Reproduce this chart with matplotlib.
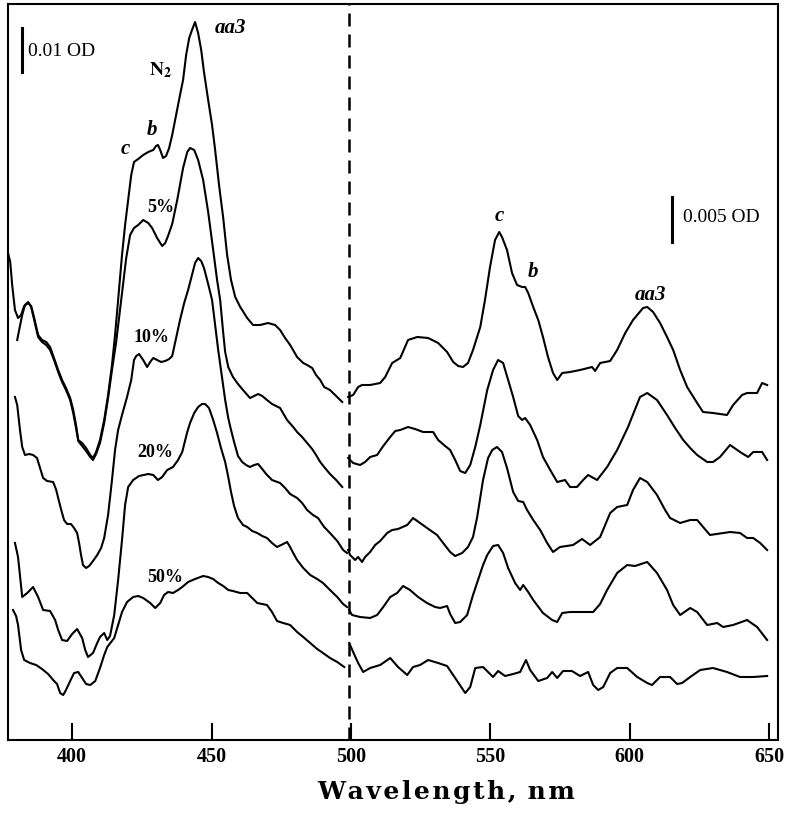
import matplotlib
matplotlib.use('Agg')
import matplotlib.pyplot as plt

plt.rcParams['font.family'] = ['Liberation Serif', 'DejaVu Serif']
plt.rcParams['mathtext.fontset'] = 'stix'

# Digitized difference spectra (trace height, arbitrary units; left and right
# halves have different OD scales, see scale bars)

# --- Soret region (left of 500 nm) ---
n2_left_nm = [377.0, 377.8, 378.5, 379.5, 380.6, 381.7, 382.8, 384.2, 385.3, 386.4, 387.8, 389.2, 390.7,
              392.1, 393.5, 395.0, 396.4, 397.8, 399.3, 400.4, 401.4, 402.2, 403.6, 405.0, 406.5, 407.5,
              408.6, 410.0, 411.5, 412.9, 414.3, 415.4, 416.5, 417.9, 419.0, 420.1, 421.2, 422.2, 423.7,
              425.5, 427.3, 429.1, 430.1, 430.8, 431.6, 432.6, 433.7, 434.8, 435.9, 437.3, 438.7, 439.8,
              440.9, 442.0, 443.0, 444.1, 445.2, 446.3, 447.3, 448.8, 450.2, 451.3, 452.7, 454.2, 455.6,
              457.0, 458.5, 460.3, 462.8, 464.9, 467.4, 470.3, 472.8, 474.6, 476.4, 478.2, 480.7, 482.9,
              484.3, 486.1, 487.5, 489.0, 490.4, 492.5, 494.7, 496.9]
n2_left = [487, 478, 455, 430, 422, 425, 434, 437, 434, 422, 405, 400, 398,
           393, 382, 370, 360, 352, 342, 330, 315, 300, 297, 292, 285, 282,
           288, 300, 320, 345, 375, 405, 440, 485, 515, 540, 565, 578, 581,
           585, 588, 590, 594, 595, 590, 582, 584, 592, 605, 625, 645, 660,
           685, 702, 710, 718, 707, 690, 668, 640, 615, 590, 555, 522, 485,
           460, 443, 433, 422, 415, 415, 417, 415, 410, 402, 395, 383, 377,
           375, 372, 365, 360, 353, 350, 344, 338]

o5_left_nm = [380.3, 381.0, 382.1, 383.1, 384.2, 385.3, 386.4, 387.8, 389.2, 390.7, 392.1, 393.5, 395.0,
              396.4, 397.8, 399.3, 400.4, 401.4, 402.2, 403.6, 405.0, 406.5, 407.5, 408.6, 410.0, 411.5,
              412.9, 414.3, 415.8, 417.6, 419.4, 420.8, 422.2, 423.7, 425.5, 427.3, 428.7, 430.5, 432.3,
              433.4, 434.4, 435.9, 437.7, 439.8, 441.3, 442.3, 443.8, 445.2, 447.0, 448.8, 450.6, 452.0,
              453.1, 454.2, 454.9, 456.0, 457.7, 459.5, 461.3, 463.8, 465.3, 466.7, 468.2, 469.9, 471.7,
              474.6, 477.1, 479.3, 480.7, 482.5, 484.3, 486.1, 487.5, 489.0, 490.4, 492.5, 494.7, 496.9]
o5_left = [400, 410, 425, 435, 438, 433, 420, 403, 398, 395, 390, 380, 368,
           358, 350, 340, 327, 312, 299, 294, 289, 283, 280, 286, 297, 317,
           342, 370, 398, 440, 482, 505, 512, 515, 520, 517, 512, 502, 494,
           497, 504, 516, 540, 572, 588, 592, 590, 580, 560, 528, 490, 460,
           440, 407, 388, 373, 363, 356, 350, 342, 344, 346, 344, 340, 336,
           332, 320, 313, 308, 303, 297, 291, 285, 278, 273, 266, 260, 253]

o10_left_nm = [379.5, 380.3, 381.3, 382.1, 383.1, 384.6, 386.0, 387.4, 388.5, 389.6, 391.0, 393.2, 394.3,
               395.0, 396.1, 397.1, 398.2, 399.6, 400.7, 401.8, 402.5, 403.2, 403.9, 405.0, 406.1, 407.5,
               409.0, 410.4, 411.5, 412.9, 414.3, 415.4, 416.5, 417.9, 419.7, 421.2, 422.2, 423.0, 424.0,
               425.5, 426.9, 428.0, 429.1, 430.5, 431.9, 433.4, 434.8, 435.9, 437.3, 438.7, 440.2, 441.6,
               443.0, 444.1, 445.2, 446.3, 447.3, 448.8, 450.2, 451.3, 452.4, 453.8, 454.9, 456.0, 457.0,
               458.1, 459.5, 461.0, 462.4, 463.8, 465.3, 466.7, 468.2, 469.6, 471.7, 474.6, 476.4, 478.2,
               480.7, 482.5, 484.3, 486.4, 488.2, 490.4, 492.5, 495.1, 497.2, 498.6]
o10_left = [343, 335, 310, 293, 285, 286, 285, 282, 272, 262, 259, 258, 250,
            242, 230, 220, 216, 216, 212, 207, 197, 185, 175, 172, 174, 179,
            185, 192, 202, 225, 260, 290, 310, 325, 343, 360, 380, 384, 386,
            380, 373, 378, 382, 380, 378, 379, 381, 384, 402, 420, 437, 450,
            465, 477, 482, 479, 472, 456, 440, 415, 390, 362, 340, 322, 310,
            298, 284, 278, 275, 273, 275, 276, 271, 266, 260, 257, 252, 246,
            242, 237, 230, 225, 222, 213, 207, 199, 190, 187]

o20_left_nm = [379.5, 380.6, 382.1, 383.9, 386.0, 387.8, 389.6, 392.1, 393.9, 395.0, 396.4, 398.2, 400.0,
               401.8, 403.6, 404.7, 405.7, 407.5, 409.0, 410.0, 411.5, 412.6, 413.6, 415.1, 416.5, 417.9,
               419.0, 420.1, 421.9, 424.0, 427.3, 429.1, 430.8, 432.3, 434.1, 436.2, 438.0, 439.5, 441.3,
               442.3, 443.8, 445.2, 446.6, 447.7, 449.1, 450.6, 452.0, 453.4, 454.9, 456.0, 457.0, 458.1,
               459.5, 461.3, 462.8, 464.6, 466.4, 468.2, 469.9, 471.7, 473.5, 475.7, 477.1, 478.2, 479.3,
               480.7, 482.9, 485.4, 487.9, 490.0, 492.5, 495.1, 497.2, 498.6]
o20_left = [197, 183, 143, 147, 153, 143, 130, 129, 120, 110, 100, 99, 106,
            111, 102, 90, 83, 87, 97, 103, 107, 100, 104, 125, 160, 200,
            235, 253, 260, 264, 266, 265, 260, 263, 270, 273, 280, 288, 308,
            317, 327, 333, 336, 336, 332, 320, 307, 292, 278, 263, 248, 234,
            222, 215, 213, 209, 207, 204, 202, 197, 193, 196, 198, 193, 187,
            180, 172, 165, 161, 157, 150, 143, 136, 133]

o50_left_nm = [378.8, 379.9, 380.6, 381.7, 382.8, 384.9, 387.1, 389.2, 391.4, 393.2, 394.6, 395.7, 396.8,
               397.8, 399.3, 400.7, 402.2, 403.6, 405.0, 406.5, 408.3, 410.0, 411.5, 412.6, 414.0, 415.1,
               416.5, 417.9, 419.7, 421.9, 423.7, 425.5, 428.0, 429.8, 431.6, 433.0, 434.4, 436.2, 438.0,
               439.5, 441.6, 444.1, 447.0, 448.8, 450.6, 452.4, 454.2, 456.0, 457.7, 460.3, 462.8, 464.6,
               466.4, 468.2, 469.9, 471.7, 473.5, 475.7, 478.2, 480.7, 482.9, 485.4, 487.9, 490.0, 492.5,
               495.1, 497.6]
o50_left = [130, 124, 115, 90, 80, 77, 75, 71, 66, 60, 56, 47, 45,
            50, 59, 67, 68, 62, 56, 55, 59, 72, 85, 93, 98, 102,
            115, 128, 138, 143, 144, 142, 137, 132, 137, 145, 148, 147, 150,
            153, 158, 161, 164, 163, 161, 157, 154, 150, 149, 147, 147, 142,
            137, 136, 135, 128, 119, 117, 115, 108, 103, 97, 91, 87, 82,
            78, 73]

# --- alpha/beta region (right of 500 nm) ---
n2_right_nm = [499.0, 500.8, 502.6, 504.0, 506.9, 510.5, 512.3, 514.8, 517.7, 520.5, 523.8, 527.7, 531.3,
               534.5, 536.7, 538.5, 540.2, 542.0, 543.8, 546.4, 548.1, 549.9, 551.7, 553.2, 554.2, 556.0,
               557.8, 559.6, 561.4, 562.5, 563.6, 565.4, 567.2, 568.9, 570.7, 572.5, 574.0, 575.8, 578.6,
               582.2, 586.5, 587.6, 589.4, 593.0, 595.5, 598.4, 601.2, 604.8, 606.3, 608.4, 610.9, 613.4,
               615.6, 618.1, 620.6, 624.2, 626.3, 629.9, 634.9, 637.1, 640.3, 642.1, 645.7, 647.5, 649.3]
n2_right = [343, 345, 353, 355, 355, 357, 363, 377, 382, 400, 403, 402, 397,
            388, 378, 374, 373, 377, 390, 413, 440, 473, 500, 508, 503, 490,
            467, 455, 453, 453, 447, 433, 420, 403, 383, 367, 360, 367, 368,
            370, 373, 369, 377, 379, 390, 407, 420, 432, 433, 428, 417, 403,
            390, 370, 353, 337, 328, 327, 325, 335, 345, 347, 347, 357, 355]

o5_right_nm = [499.0, 500.8, 503.3, 505.1, 506.9, 509.4, 511.6, 514.1, 515.9, 517.7, 520.5, 523.0, 525.9,
               529.5, 531.3, 533.8, 535.6, 537.4, 539.2, 541.0, 542.8, 544.6, 546.4, 548.9, 551.0, 552.8,
               554.6, 556.4, 558.2, 560.0, 561.4, 562.5, 564.3, 566.8, 568.9, 571.5, 574.0, 576.8, 578.6,
               581.1, 583.3, 585.1, 588.3, 591.9, 595.5, 599.4, 603.7, 606.3, 609.8, 613.4, 616.3, 619.2,
               621.7, 624.2, 627.8, 629.9, 632.4, 636.0, 639.6, 642.5, 644.3, 647.5, 649.3]
o5_right = [282, 277, 275, 278, 283, 285, 294, 303, 309, 310, 313, 311, 308,
            308, 300, 294, 290, 280, 269, 267, 275, 293, 315, 350, 370, 380,
            377, 360, 343, 324, 320, 322, 315, 300, 283, 270, 258, 260, 253,
            253, 260, 265, 260, 273, 290, 313, 343, 347, 340, 325, 312, 300,
            292, 285, 278, 278, 283, 295, 288, 283, 288, 288, 280]

o10_right_nm = [499.0, 499.7, 501.5, 502.6, 504.0, 505.1, 506.9, 508.7, 510.5, 513.0, 514.8, 516.9, 520.2,
                522.3, 524.8, 527.3, 530.9, 533.1, 535.6, 537.4, 539.9, 542.0, 543.8, 545.3, 547.4, 549.2,
                550.7, 552.4, 554.2, 556.0, 558.2, 560.0, 561.8, 563.2, 565.4, 567.9, 570.4, 572.5, 575.0,
                579.7, 582.9, 585.8, 589.4, 593.0, 595.5, 599.1, 601.2, 603.7, 606.3, 609.8, 612.7, 614.5,
                618.1, 621.7, 624.2, 628.8, 636.0, 639.6, 642.1, 644.3, 646.8, 649.3]
o10_right = [190, 185, 180, 183, 178, 183, 188, 195, 199, 207, 210, 211, 215,
             222, 217, 212, 205, 197, 188, 184, 187, 193, 203, 223, 260, 282,
             290, 293, 288, 272, 248, 239, 238, 230, 220, 210, 197, 188, 193,
             195, 201, 195, 203, 227, 233, 235, 250, 262, 258, 245, 230, 222,
             217, 220, 220, 205, 208, 207, 202, 202, 197, 190]

o20_right_nm = [499.4, 500.4, 503.3, 506.9, 509.4, 511.6, 514.1, 516.6, 518.7, 521.2, 524.1, 527.3, 530.2,
                532.0, 534.5, 535.6, 537.4, 539.2, 541.7, 543.8, 545.6, 547.4, 548.9, 551.0, 552.8, 554.6,
                556.4, 558.9, 560.7, 561.8, 563.6, 565.4, 568.9, 572.2, 574.0, 575.8, 578.6, 582.2, 586.9,
                589.4, 591.9, 595.5, 599.1, 601.9, 606.3, 609.8, 613.4, 615.6, 618.1, 621.7, 624.2, 627.8,
                631.4, 633.5, 637.1, 642.1, 645.7, 649.3]
o20_right = [130, 125, 123, 122, 125, 133, 143, 147, 154, 150, 143, 137, 133,
             132, 134, 126, 117, 118, 125, 145, 160, 175, 185, 194, 195, 187,
             172, 157, 150, 155, 148, 140, 127, 120, 118, 127, 128, 128, 128,
             136, 150, 167, 175, 174, 178, 167, 150, 135, 125, 132, 128, 115,
             117, 113, 115, 120, 113, 100]

o50_right_nm = [499.4, 500.8, 502.6, 504.4, 506.9, 510.5, 514.1, 516.9, 520.2, 522.3, 524.8, 527.7, 531.3,
                534.5, 537.4, 541.0, 542.8, 544.6, 547.4, 551.0, 552.8, 555.3, 558.2, 560.7, 562.8, 564.3,
                567.2, 570.4, 572.2, 574.0, 576.1, 579.3, 582.2, 585.1, 586.9, 588.7, 590.5, 593.0, 595.5,
                599.1, 602.7, 606.3, 608.0, 610.9, 614.5, 617.0, 618.8, 621.7, 625.3, 629.9, 634.9, 639.6,
                644.3, 649.3]
o50_right = [97, 88, 77, 68, 72, 75, 82, 73, 65, 73, 75, 80, 77,
             74, 62, 47, 53, 72, 73, 63, 69, 64, 66, 68, 80, 70,
             59, 62, 68, 62, 69, 69, 64, 68, 55, 50, 53, 67, 72,
             72, 63, 57, 55, 63, 63, 56, 57, 63, 70, 72, 68, 63,
             63, 64]

traces = [
    (n2_left_nm, n2_left), (o5_left_nm, o5_left), (o10_left_nm, o10_left),
    (o20_left_nm, o20_left), (o50_left_nm, o50_left),
    (n2_right_nm, n2_right), (o5_right_nm, o5_right), (o10_right_nm, o10_right),
    (o20_right_nm, o20_right), (o50_right_nm, o50_right),
]

# curve labels: text, x (nm), y, style
labels = [
    ('5%', 431.9, 532, 'normal'), ('10%', 428.3, 403, 'normal'),
    ('20%', 429.8, 288, 'normal'), ('50%', 433.4, 163, 'normal'),
    ('aa3', 456.7, 712, 'italic'), ('c', 419.0, 591, 'italic'), ('b', 428.7, 610, 'italic'),
    ('c', 553.2, 524, 'italic'), ('b', 565.4, 468, 'italic'), ('aa3', 607.3, 445, 'italic'),
]

fig = plt.figure(figsize=(7.85, 8.13), dpi=100)
ax = fig.add_axes([8 / 785, 73 / 813, 770 / 785, 736 / 813])

for wl, h in traces:
    ax.plot(wl, h, color='black', lw=1.5, solid_joinstyle='round')

ax.axvline(499.2, color='black', lw=1.8, dashes=(5.2, 3.2))

# scale bars
ax.plot([382.1, 382.1], [668, 712], color='black', lw=2.2)
ax.text(384.2, 688, '0.01 OD', fontsize=14, ha='left', va='center')
ax.plot([615.2, 615.2], [498, 543], color='black', lw=2.2)
ax.text(619.2, 522, '0.005 OD', fontsize=14, ha='left', va='center')

ax.text(431.6, 670, r'$\mathbf{N_2}$', fontsize=14, ha='center', va='center')
for txt, x, y, st in labels:
    size = 15 if st == 'italic' else 13
    ax.text(x, y, txt, fontsize=size, fontweight='bold', fontstyle=st, ha='center', va='center')

ax.set_xlim(377.0, 653.2)
ax.set_ylim(0, 736)
ax.set_xticks([400, 450, 500, 550, 600, 650])
ax.set_yticks([])
ax.tick_params(axis='x', direction='in', length=12.5, width=1.5, pad=5, labelsize=14.5)
for lab in ax.get_xticklabels():
    lab.set_fontweight('bold')
for s in ax.spines.values():
    s.set_linewidth(1.5)

fig.text(0.569, 0.026, '\u200a'.join('Wavelength,') + ' \u200a' + '\u200a'.join('nm'),
         family=['DejaVu Serif'], fontsize=18, fontweight='bold', ha='center', va='center')

fig.savefig('out.png', dpi=100)
